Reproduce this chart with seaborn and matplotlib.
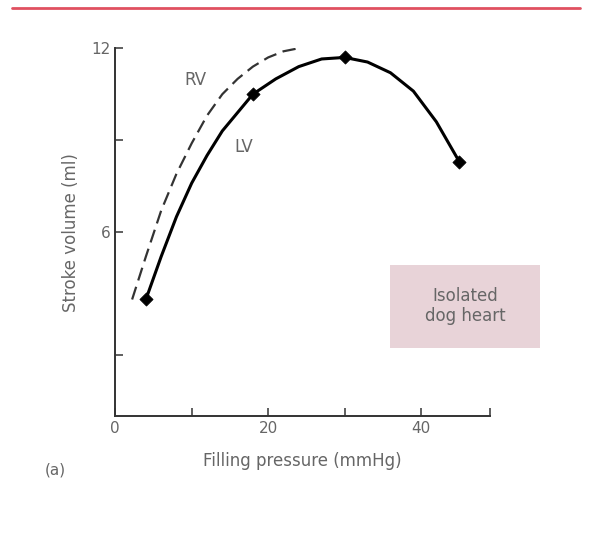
import matplotlib.pyplot as plt
import seaborn as sns
import pandas as pd
from matplotlib.patches import Rectangle

# values
lv_pressure = [4, 6, 8, 10, 12, 14, 16, 18, 21, 24, 27, 30, 33, 36, 39, 42, 45]
lv_volume = [3.8, 5.2, 6.5, 7.6, 8.5, 9.3, 9.9, 10.5, 11.0, 11.4, 11.65, 11.7,
             11.55, 11.2, 10.6, 9.6, 8.3]
lv_marker_pressure = [4, 18, 30, 45]
lv_marker_volume = [3.8, 10.5, 11.7, 8.3]
rv_pressure = [2.2, 4, 6, 8, 10, 12, 14, 16, 18, 20, 22, 24]
rv_volume = [3.8, 5.2, 6.7, 7.9, 8.9, 9.8, 10.5, 11.0, 11.4, 11.7, 11.9, 12.0]

sns.set_theme(style="ticks")
plt.rcParams["font.family"] = ["DejaVu Sans"]

fig = plt.figure(figsize=(6.1, 5.36), dpi=100)
ax = fig.add_axes([0.189, 0.224, 0.614, 0.686])

lv = pd.DataFrame({"p": lv_pressure, "v": lv_volume})
rv = pd.DataFrame({"p": rv_pressure, "v": rv_volume})
mk = pd.DataFrame({"p": lv_marker_pressure, "v": lv_marker_volume})

sns.lineplot(data=lv, x="p", y="v", ax=ax, color="black", lw=2.2, sort=False)
sns.lineplot(data=rv, x="p", y="v", ax=ax, color="#333333", lw=1.6,
             linestyle=(0, (6, 3)), sort=False)
sns.scatterplot(data=mk, x="p", y="v", ax=ax, marker="D", s=45,
                color="black", edgecolor="black", zorder=5)

ax.set_xlim(0, 49)
ax.set_ylim(0, 12)
ax.set_xticks([0, 10, 20, 30, 40, 49])
ax.set_xticklabels(["0", "", "20", "", "40", ""])
ax.set_yticks([2, 6, 9, 12])
ax.set_yticklabels(["", "6", "", "12"])
ax.tick_params(direction="in", length=6, width=1.2, colors="#444444",
               labelsize=11, labelcolor="#666666")
for s in ["top", "right"]:
    ax.spines[s].set_visible(False)
for s in ["left", "bottom"]:
    ax.spines[s].set_linewidth(1.4)
    ax.spines[s].set_color("#333333")
ax.set_xlabel("Filling pressure (mmHg)", fontsize=12, color="#666666", labelpad=12)
ax.set_ylabel("Stroke volume (ml)", fontsize=12, color="#666666", labelpad=8)

ax.text(10.5, 10.8, "RV", fontsize=12, color="#666666", ha="center")
ax.text(16.8, 8.6, "LV", fontsize=12, color="#666666", ha="center")

fig.patches.append(Rectangle((390 / 610, 1 - 348 / 536), 150 / 610, 83 / 536,
                             transform=fig.transFigure, facecolor="#e8d3d8",
                             edgecolor="none"))
fig.text(465 / 610, 1 - 306 / 536, "Isolated\ndog heart", fontsize=12,
         color="#666666", ha="center", va="center")
fig.text(45 / 610, 1 - 470 / 536, "(a)", fontsize=11, color="#666666",
         va="center")
fig.add_artist(plt.Line2D([0.02, 0.95], [1 - 8 / 536] * 2, color="#e05060",
                          lw=2, transform=fig.transFigure))

fig.savefig("out.png", dpi=100)
